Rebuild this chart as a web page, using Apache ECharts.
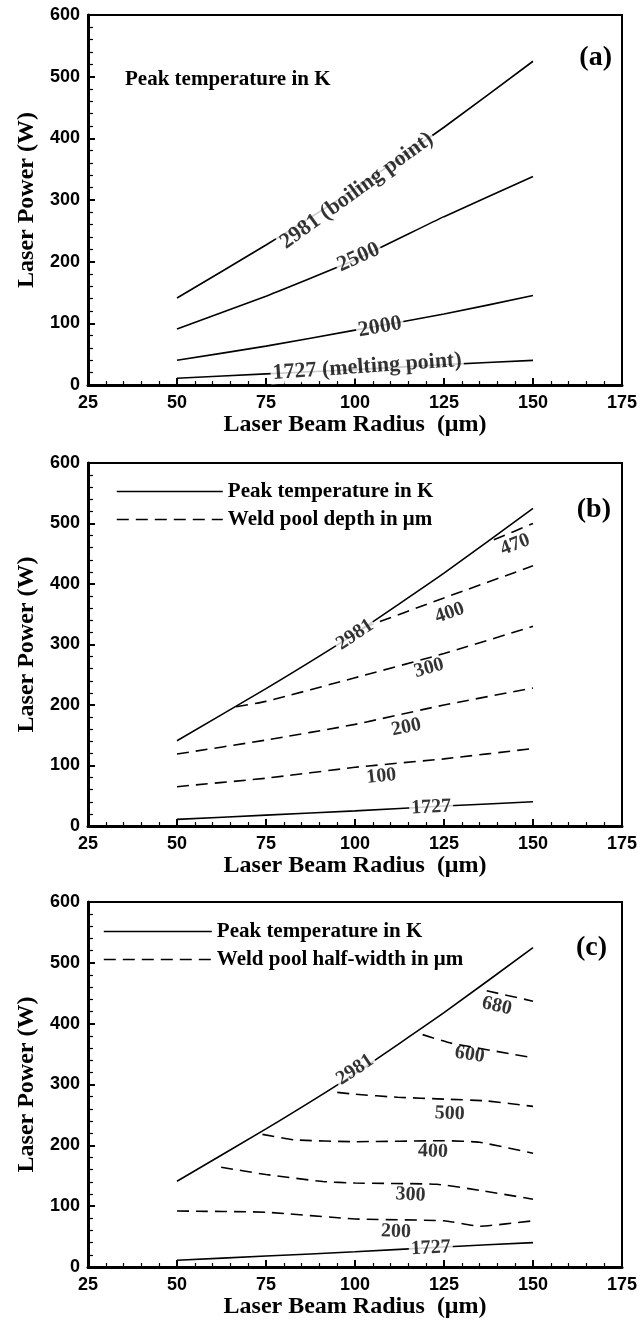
<!DOCTYPE html>
<html><head><meta charset="utf-8">
<script src="https://cdn.jsdelivr.net/npm/echarts@6/dist/echarts.min.js"></script>
<style>html,body{margin:0;padding:0;background:#fff}#c{width:641px;height:1323px}</style>
</head><body><div id="c"></div>
<script>
// ---------- data (x: laser beam radius in um, y: laser power in W) ----------
const xRange = [25, 175];
const yRange = [0, 600];

// Panel (a): peak temperature contours (K)
const peak2981 = [[50,141],[75,227],[100,318],[125,418],[150,525]];
const peak2500 = [[50,91],[75,144],[100,203],[125,273],[150,338]];
const peak2000 = [[50,40],[75,63],[100,89],[125,115],[150,145]];
const peak1727 = [[50,11],[75,18],[100,25],[125,33],[150,40]];

// Panel (b): weld pool depth contours (um)
const depth100 = [[50,65],[75,79],[100,97],[125,111],[150,128]];
const depth200 = [[50,119],[75,142],[100,168],[125,200],[150,228]];
const depth300 = [[66.6,197],[75,206],[100,245],[125,285],[150,330]];
const depth400 = [[102,327],[125,377],[150,430]];
const depth470 = [[139,473],[150,500]];

// Panel (c): weld pool half-width contours (um)
const half200 = [[50,92],[75,90],[100,79],[125,76],[135,67],[150,76]];
const half300 = [[62.4,164],[75,152],[91,140.5],[100,138],[123,136],[135,126],[150,111.5]];
const half400 = [[74,218],[83,209],[100,206],[125,207.6],[135,205],[150,187]];
const half500 = [[95,287],[100,284],[112,279],[125,276],[137,273],[150,264]];
const half600 = [[119,382],[127,368],[150,344]];
const half680 = [[137,454],[150,437]];

// contour labels: [x, y, text, angle]
const labelsA = [[100.5,315,'2981 (boiling point)',36],[101,207,'2500',24],[107,94,'2000',10],[103.4,29.5,'1727 (melting point)',4]];
const labelsB = [[100,316,'2981',34],[145,465,'470',21],[126.6,352,'400',19],[120.8,261,'300',16],[114.4,163,'200',12],[107.4,82,'100',6],[121.4,31,'1727',3]];
const labelsC = [[100,324,'2981',34],[139.8,429,'680',-13],[132.2,349,'600',-9],[126.6,252,'500',-2],[121.9,190,'400',-2],[115.6,118.6,'300',-3],[111.5,58,'200',-2],[121.3,31,'1727',3]];
// which labels break their line (white backing)
const brokenB = ['2981','1727'];

const PEAK = 'Peak temperature in K';
const DEPTH = 'Weld pool depth in μm';
const HALF = 'Weld pool half-width in μm';

// ---------- styling ----------
const SERIF = '"Liberation Serif","Times New Roman",serif';
const SANS = '"Liberation Sans",Arial,sans-serif';
const grids = [
  {left:88, top:15, width:534, height:370},
  {left:88, top:463, width:534, height:363},
  {left:88, top:902, width:534, height:365}
];

function xAx(i){
  return {type:'value', gridIndex:i, min:xRange[0], max:xRange[1], interval:25,
    name:'Laser Beam Radius  (μm)', nameLocation:'middle', nameGap:28,
    nameTextStyle:{fontFamily:SERIF, fontWeight:'bold', fontSize:24, color:'#000'},
    axisLine:{show:true, onZero:false, lineStyle:{color:'#000', width:3}},
    axisTick:{show:true, inside:true, length:7, lineStyle:{color:'#000', width:2}},
    minorTick:{show:true, splitNumber:5, length:4, lineStyle:{color:'#000', width:1.2}},
    axisLabel:{fontFamily:SANS, fontWeight:'bold', fontSize:18, color:'#000', margin:9},
    splitLine:{show:false}, minorSplitLine:{show:false}};
}
function yAx(i){
  return {type:'value', gridIndex:i, min:yRange[0], max:yRange[1], interval:100,
    name:'Laser Power (W)', nameLocation:'middle', nameGap:49,
    nameTextStyle:{fontFamily:SERIF, fontWeight:'bold', fontSize:24, color:'#000'},
    axisLine:{show:true, onZero:false, lineStyle:{color:'#000', width:3}},
    axisTick:{show:true, inside:true, length:7, lineStyle:{color:'#000', width:2}},
    minorTick:{show:true, splitNumber:5, length:5, lineStyle:{color:'#000', width:1.2}},
    axisLabel:{fontFamily:SANS, fontWeight:'bold', fontSize:18, color:'#000', margin:8},
    splitLine:{show:false}, minorSplitLine:{show:false}};
}
function line(i, name, data, dashed){
  return {type:'line', name:name, xAxisIndex:i, yAxisIndex:i, data:data, symbol:'none', showSymbol:false,
    smooth:0.15, silent:true, z:2,
    lineStyle:{color:'#000', width:1.6, type: dashed ? [12,7] : 'solid'}, itemStyle:{color:'#000'}};
}
function labels(i, arr, size, broken){
  return {type:'scatter', name:'lbl'+i, xAxisIndex:i, yAxisIndex:i, symbolSize:1, silent:true, z:5,
    itemStyle:{color:'rgba(0,0,0,0)'},
    data: arr.map(d => ({value:[d[0],d[1]], name:d[2],
      label:{rotate:d[3], backgroundColor: broken(d[2]) ? '#fff' : 'transparent'}})),
    label:{show:true, position:'inside', formatter:p => p.name, fontFamily:SERIF, fontWeight:'bold',
      fontSize:size, color:'#000', padding:[0,2]}};
}

const series = [
  line(0,PEAK,peak2981), line(0,PEAK,peak2500), line(0,PEAK,peak2000), line(0,PEAK,peak1727),
  labels(0, labelsA, 22, () => true),
  line(1,PEAK,peak2981), line(1,PEAK,peak1727),
  line(1,DEPTH,depth100,true), line(1,DEPTH,depth200,true), line(1,DEPTH,depth300,true),
  line(1,DEPTH,depth400,true), line(1,DEPTH,depth470,true),
  labels(1, labelsB, 20, t => brokenB.includes(t)),
  line(2,PEAK,peak2981), line(2,PEAK,peak1727),
  line(2,HALF,half200,true), line(2,HALF,half300,true), line(2,HALF,half400,true),
  line(2,HALF,half500,true), line(2,HALF,half600,true), line(2,HALF,half680,true),
  labels(2, labelsC, 20, t => brokenB.includes(t))
];

const legendText = {fontFamily:SERIF, fontWeight:'bold', fontSize:21, color:'#000'};
const legendBase = {orient:'vertical', padding:0, itemHeight:16, itemGap:7, selectedMode:false,
  textStyle:legendText, itemStyle:{color:'rgba(0,0,0,0)', borderWidth:0, opacity:0},
  lineStyle:{width:1.6}};
function txt(x, y, text, size, align){
  return {type:'text', x:x, y:y, silent:true,
    style:{text:text, font:'bold '+size+'px '+SERIF, fill:'#000', align:align, textAlign:align,
      verticalAlign:'middle', textVerticalAlign:'middle'}};
}

const chart = echarts.init(document.getElementById('c'), null, {renderer:'canvas'});
chart.setOption({
  animation:false,
  backgroundColor:'#fff',
  grid: grids.map(g => Object.assign({show:true, borderColor:'#000', borderWidth:2, backgroundColor:'transparent'}, g)),
  xAxis:[xAx(0), xAx(1), xAx(2)],
  yAxis:[yAx(0), yAx(1), yAx(2)],
  legend:[
    Object.assign({left:116, top:481, itemWidth:106, data:[PEAK, DEPTH]}, legendBase),
    Object.assign({left:103, top:921, itemWidth:108, data:[PEAK, HALF]}, legendBase)
  ],
  graphic:[
    txt(125, 80, PEAK, 21, 'left'),
    txt(612, 58, '(a)', 28, 'right'),
    txt(611, 510, '(b)', 28, 'right'),
    txt(607, 948, '(c)', 28, 'right')
  ],
  series: series
});
</script></body></html>
